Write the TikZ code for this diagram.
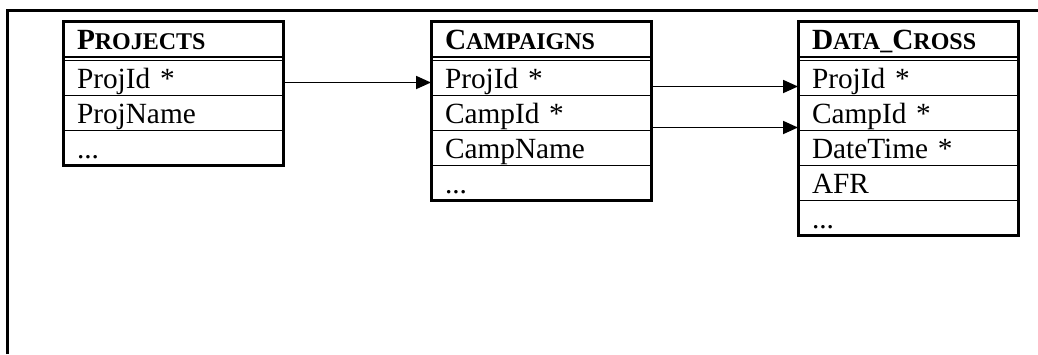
\documentclass[tikz,border=0pt]{standalone}
\usepackage{fontspec}
\setmainfont{Liberation Serif}
\usetikzlibrary{arrows.meta,fit}
% reduced capitals for the table titles
\newcommand{\smc}{\fontsize{24pt}{28pt}\selectfont}
\begin{document}
\begin{tikzpicture}[x=1pt,y=-1pt,
  font=\fontsize{29.3pt}{34pt}\selectfont,
  cell/.style={draw, line width=1.8pt, anchor=north west, outer sep=0pt,
    inner xsep=14pt, inner ysep=0pt, text width=192pt, align=left,
    text height=28pt, text depth=7pt, minimum height=35pt},
  headcell/.style={cell, text depth=8pt, minimum height=36pt},
  tableframe/.style={draw, line width=3pt, inner sep=0pt},
  link/.style={line width=1.8pt, -{Triangle[length=15pt,width=13pt]}}]
\useasboundingbox (0,0) rectangle (1038,354);

% page frame
\draw[line width=2.9pt] (7.5,354) -- (7.5,10.7) -- (1038,10.7);

% PROJECTS
\node[headcell] (p0) at (63,21) {\textbf{P{\smc ROJECTS}}};
\node[cell] (p1) at (63,60.5) {ProjId *};
\node[cell] (p2) at (63,95.5) {ProjName};
\node[cell] (p3) at (63,130.5) {...};
\node[tableframe, fit=(p0)(p3)] (P) {};

% CAMPAIGNS
\node[headcell] (c0) at (431,21) {\textbf{C{\smc AMPAIGNS}}};
\node[cell] (c1) at (431,60.5) {ProjId *};
\node[cell] (c2) at (431,95.5) {CampId *};
\node[cell] (c3) at (431,130.5) {CampName};
\node[cell] (c4) at (431,165.5) {...};
\node[tableframe, fit=(c0)(c4)] (C) {};

% DATA_CROSS
\node[headcell] (d0) at (798,21) {\textbf{D{\smc ATA\_}C{\smc ROSS}}};
\node[cell] (d1) at (798,60.5) {ProjId *};
\node[cell] (d2) at (798,95.5) {CampId *};
\node[cell] (d3) at (798,130.5) {DateTime *};
\node[cell] (d4) at (798,165.5) {AFR};
\node[cell] (d5) at (798,200.5) {...};
\node[tableframe, fit=(d0)(d5)] (D) {};

% key references
\draw[link] ([yshift=-4.5pt]p1.east) -- ([yshift=-4.5pt]c1.west);
\draw[link] ([yshift=-8.5pt]c1.east) -- ([yshift=-8.5pt]d1.west);
\draw[link] ([yshift=-14.5pt]c2.east) -- ([yshift=-14.5pt]d2.west);
\end{tikzpicture}
\end{document}
